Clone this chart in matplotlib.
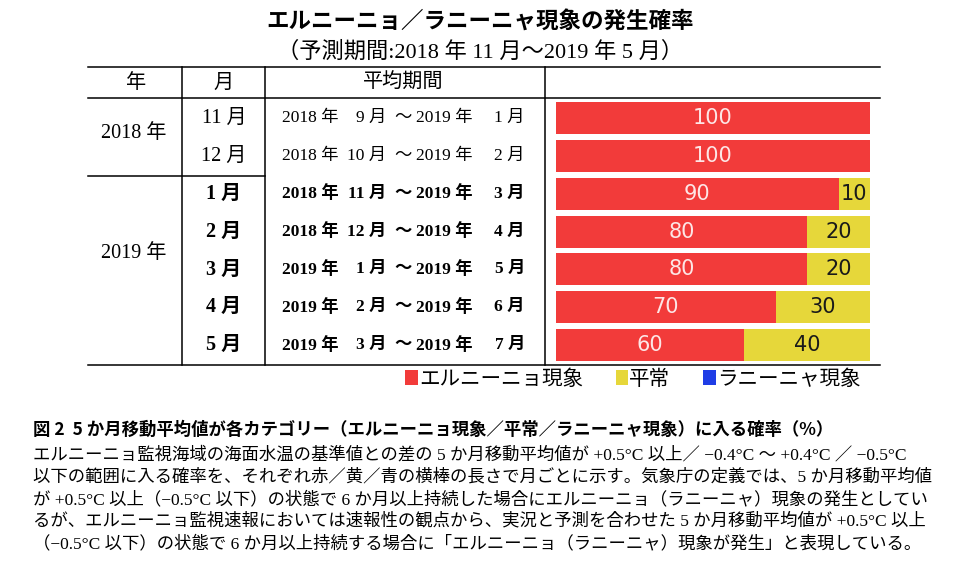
import matplotlib
matplotlib.use("Agg")
import matplotlib.pyplot as plt

# data
title = "エルニーニョ／ラニーニャ現象の発生確率"
subtitle = "（予測期間:2018 年 11 月～2019 年 5 月）"
header = ["年", "月", "平均期間"]
years = ["2018 年", "2019 年"]
months = ["11 月", "12 月", "1 月", "2 月", "3 月", "4 月", "5 月"]
start_year = ["2018 年", "2018 年", "2018 年", "2018 年", "2019 年", "2019 年", "2019 年"]
start_month = ["9 月", "10 月", "11 月", "12 月", "1 月", "2 月", "3 月"]
end_year = ["2019 年"] * 7
end_month = ["1 月", "2 月", "3 月", "4 月", "5 月", "6 月", "7 月"]
el_nino = [100, 100, 90, 80, 80, 70, 60]
normal = [0, 0, 10, 20, 20, 30, 40]
la_nina = [0, 0, 0, 0, 0, 0, 0]
series_names = ["エルニーニョ現象", "平常", "ラニーニャ現象"]
caption = "図 2  5 か月移動平均値が各カテゴリー（エルニーニョ現象／平常／ラニーニャ現象）に入る確率（%）"
body = [
    "エルニーニョ監視海域の海面水温の基準値との差の 5 か月移動平均値が +0.5°C 以上／ −0.4°C 〜 +0.4°C ／ −0.5°C",
    "以下の範囲に入る確率を、それぞれ赤／黄／青の横棒の長さで月ごとに示す。気象庁の定義では、5 か月移動平均値",
    "が +0.5°C 以上（−0.5°C 以下）の状態で 6 か月以上持続した場合にエルニーニョ（ラニーニャ）現象の発生としてい",
    "るが、エルニーニョ監視速報においては速報性の観点から、実況と予測を合わせた 5 か月移動平均値が +0.5°C 以上",
    "（−0.5°C 以下）の状態で 6 か月以上持続する場合に「エルニーニョ（ラニーニャ）現象が発生」と表現している。",
]

RED = "#f23b3a"
YELLOW = "#e6d73a"
BLUE = "#1f3de6"
SERIF = ["Liberation Serif", "Noto Sans CJK JP"]
SANS = ["Noto Sans CJK JP", "DejaVu Sans"]
plt.rcParams["font.family"] = SANS

W, H = 964, 565
fig = plt.figure(figsize=(W / 100, H / 100), dpi=100)

# layout axes in pixel units
lay = fig.add_axes([0, 0, 1, 1])
lay.set_xlim(0, W)
lay.set_ylim(H, 0)
lay.axis("off")

lay.text(480, 22, title, ha="center", va="center", fontsize=16.2, fontweight="bold", family=SANS)
lay.text(480, 52, subtitle, ha="center", va="center", fontsize=16, family=SERIF)

top, head_bot, bot = 67, 98, 365
left, right = 88, 880
lw = 1.1
for y in (top, head_bot, bot):
    lay.plot([left, right], [y, y], color="black", lw=lw)
lay.plot([left, 265], [176, 176], color="black", lw=lw)
for x in (182, 265, 545):
    lay.plot([x, x], [top, bot], color="black", lw=lw)

for x, h in zip((136, 224, 403), header):
    lay.text(x, 83, h, ha="center", va="center", fontsize=14.5, family=SERIF)

lay.text(134, 133, years[0], ha="center", va="center", fontsize=14.5, family=SERIF)
lay.text(134, 253, years[1], ha="center", va="center", fontsize=14.5, family=SERIF)

row_top, pitch = 99.2, 37.83
fs = 12.5
for i in range(len(months)):
    y = row_top + (i + 0.5) * pitch
    wt = "bold" if i >= 2 else "normal"
    lay.text(224, y, months[i], ha="center", va="center", fontsize=14.5, fontweight=wt, family=SERIF)
    lay.text(282, y, start_year[i], ha="left", va="center", fontsize=fs, fontweight=wt, family=SERIF)
    lay.text(386, y, start_month[i], ha="right", va="center", fontsize=fs, fontweight=wt, family=SERIF)
    lay.text(403, y, "〜", ha="center", va="center", fontsize=fs, fontweight=wt, family=SERIF)
    lay.text(416, y, end_year[i], ha="left", va="center", fontsize=fs, fontweight=wt, family=SERIF)
    lay.text(525, y, end_month[i], ha="right", va="center", fontsize=fs, fontweight=wt, family=SERIF)

# bar axes
bx0, bx1 = 556, 870
by0, by1 = row_top, row_top + pitch * 7
ax = fig.add_axes([bx0 / W, 1 - by1 / H, (bx1 - bx0) / W, (by1 - by0) / H])
ypos = list(range(len(months)))
b1 = ax.barh(ypos, el_nino, height=0.845, color=RED, label=series_names[0])
b2 = ax.barh(ypos, normal, left=el_nino, height=0.845, color=YELLOW, label=series_names[1])
left3 = [a + b for a, b in zip(el_nino, normal)]
b3 = ax.barh(ypos, la_nina, left=left3, height=0.845, color=BLUE, label=series_names[2])
ax.bar_label(b1, labels=[str(v) if v else "" for v in el_nino], label_type="center",
             color="#fde6e6", fontsize=15, family="DejaVu Sans")
ax.bar_label(b2, labels=[str(v) if v else "" for v in normal], label_type="center",
             color="#1a1a1a", fontsize=15, family="DejaVu Sans")
ax.set_xlim(0, 100)
ax.set_ylim(6.5, -0.5)
ax.axis("off")

fig.legend(handles=[b1, b2, b3], loc="center left", bbox_to_anchor=(405 / W, 1 - 379 / H),
           ncol=3, frameon=False, prop={"family": SANS, "size": 14.8},
           handlelength=0.62, handleheight=0.75, handletextpad=0.05, columnspacing=1.6,
           borderpad=0, borderaxespad=0)

lay.text(33, 430, caption, ha="left", va="center", fontsize=12.5, fontweight="bold", family=SANS)
for k, line in enumerate(body):
    lay.text(33, 455 + k * 22.2, line, ha="left", va="center", fontsize=12.5, family=SERIF)

fig.savefig("out.png", dpi=100)
